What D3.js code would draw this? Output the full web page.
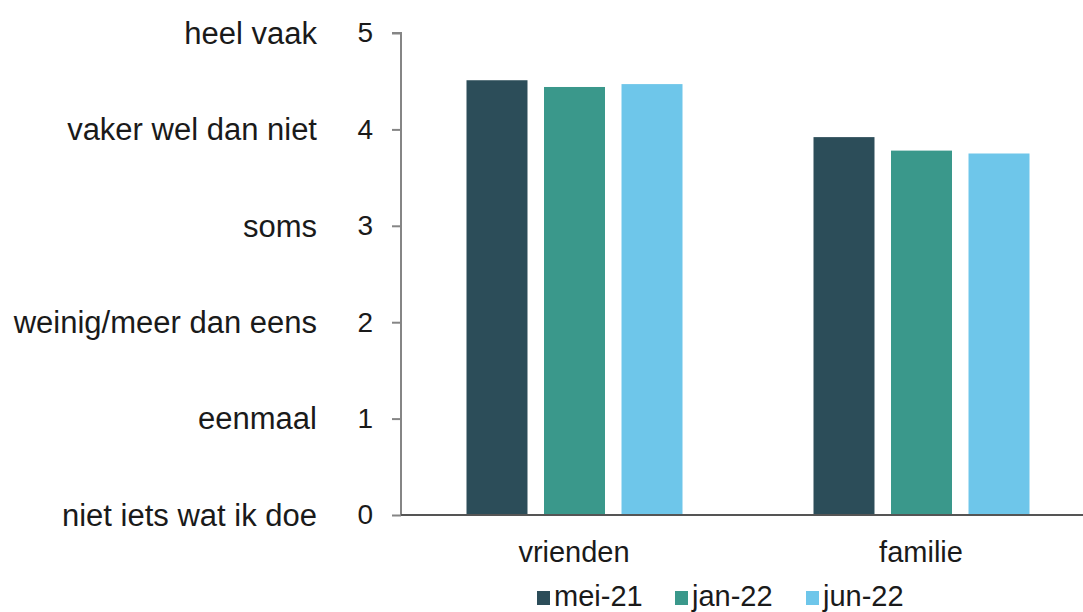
<!DOCTYPE html>
<html>
<head>
<meta charset="utf-8">
<script src="https://cdn.jsdelivr.net/npm/d3@7"></script>
<style>
  html, body { margin: 0; padding: 0; background: #fff; }
  svg { display: block; font-family: "Liberation Sans", Arial, sans-serif; }
</style>
</head>
<body>
<svg id="chart" width="1083" height="612"></svg>
<script>
const categories = ["vrienden", "familie"];
const seriesNames = ["mei-21", "jan-22", "jun-22"];
const mei21 = [4.51, 3.92];
const jan22 = [4.44, 3.78];
const jun22 = [4.47, 3.75];
const yTicks = [0, 1, 2, 3, 4, 5];
const yTickLabels = ["niet iets wat ik doe", "eenmaal", "weinig/meer dan eens", "soms", "vaker wel dan niet", "heel vaak"];
const colors = ["#2c4d59", "#3a988b", "#6ec6ea"];

const seriesValues = [mei21, jan22, jun22];

const svg = d3.select("#chart");

const y = d3.scaleLinear().domain([0, 5]).range([515, 33]);
const x0 = d3.scaleBand().domain(categories).range([401.5, 1095.5]).paddingInner(0).paddingOuter(0);
const groupW = 216;
const x1 = d3.scaleBand().domain(seriesNames).range([0, groupW]).paddingInner(0.213).paddingOuter(0);
const groupOffset = (x0.bandwidth() - groupW) / 2 - 0.5;

// bars
const groups = svg.append("g").selectAll("g")
  .data(categories)
  .join("g")
  .attr("transform", d => `translate(${x0(d) + groupOffset},0)`);

groups.selectAll("rect")
  .data((c, i) => seriesNames.map((s, j) => ({ s, v: seriesValues[j][i], j })))
  .join("rect")
  .attr("x", d => x1(d.s))
  .attr("width", x1.bandwidth())
  .attr("y", d => y(d.v))
  .attr("height", d => y(0) - y(d.v))
  .attr("fill", d => colors[d.j]);

// y axis
const yAxis = svg.append("g")
  .attr("transform", "translate(401,0)")
  .call(d3.axisLeft(y).tickValues(yTicks).tickFormat(d3.format("d")).tickSize(9).tickPadding(19));
yAxis.select(".domain").attr("stroke", "#858585").attr("stroke-width", 2).attr("d", `M-9,${y(5)}H0V${y(0)}`);
yAxis.selectAll(".tick line").attr("stroke", "#858585").attr("stroke-width", 2);
yAxis.selectAll(".tick text").attr("font-size", 28).attr("fill", "#1a1a1a")
  .attr("font-family", "Liberation Sans, Arial, sans-serif");

// descriptive labels
svg.append("g").selectAll("text")
  .data(yTicks)
  .join("text")
  .attr("x", 317)
  .attr("y", d => y(d))
  .attr("dy", "0.35em")
  .attr("text-anchor", "end")
  .attr("font-size", 31)
  .attr("fill", "#1a1a1a")
  .text((d, i) => yTickLabels[i]);

// x axis line
svg.append("line")
  .attr("x1", 401).attr("x2", 1083)
  .attr("y1", y(0)).attr("y2", y(0))
  .attr("stroke", "#555").attr("stroke-width", 2);

// category labels
svg.append("g").selectAll("text")
  .data(categories)
  .join("text")
  .attr("x", d => x0(d) + x0.bandwidth() / 2 - 1)
  .attr("y", 562)
  .attr("text-anchor", "middle")
  .attr("font-size", 29)
  .attr("fill", "#1a1a1a")
  .text(d => d);

// legend
const legendX = [537, 675, 806];
const leg = svg.append("g").selectAll("g")
  .data(seriesNames)
  .join("g")
  .attr("transform", (d, i) => `translate(${legendX[i]},0)`);
leg.append("rect").attr("x", 0).attr("y", 591).attr("width", 13).attr("height", 14)
  .attr("fill", (d, i) => colors[i]);
leg.append("text").attr("x", 17).attr("y", 606)
  .attr("font-size", 29).attr("fill", "#1a1a1a").text(d => d);
</script>
</body>
</html>
